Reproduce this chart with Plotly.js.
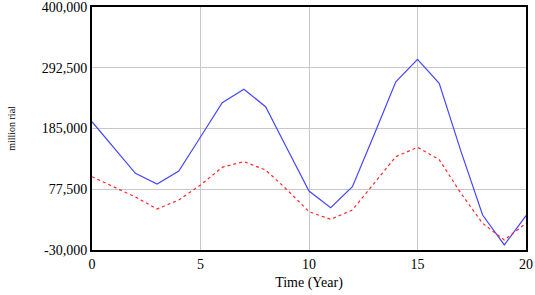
<!DOCTYPE html>
<html>
<head>
<meta charset="utf-8">
<script src="https://cdn.plot.ly/plotly-3.0.1.min.js"></script>
<style>html,body{margin:0;padding:0;background:#fff;}#chart{width:535px;height:295px;}</style>
</head>
<body>
<div id="chart"></div>
<script>
var years = [0,1,2,3,4,5,6,7,8,9,10,11,12,13,14,15,16,17,18,19,20];
var seriesA = [197000,151400,105700,86800,109800,170000,230700,254400,223600,148700,74400,44900,82000,174000,267800,307500,265000,145000,31900,-21100,30700];
var seriesB = [99700,82000,63800,42600,58500,85000,116300,126300,111600,76200,37800,24300,40800,88000,135100,151700,130000,70300,17300,-12300,17300];
var yTickVals = [-30000,77500,185000,292500,400000];
var yTickText = ["-30,000","77,500","185,000","292,500","400,000"];
var xTickVals = [0,5,10,15,20];

var traces = [
  {x: years, y: seriesA, type: 'scatter', mode: 'lines', line: {color: 'rgb(70,70,255)', width: 1.2}, hoverinfo: 'none'},
  {x: years, y: seriesB, type: 'scatter', mode: 'lines', line: {color: 'rgb(255,40,40)', width: 1.2, dash: '3px,3px'}, hoverinfo: 'none'}
];
var font = {family: '"Liberation Serif", "Times New Roman", serif', color: '#000'};
var layout = {
  width: 535, height: 295,
  margin: {l: 92, r: 9, t: 7, b: 45},
  paper_bgcolor: '#fff', plot_bgcolor: '#fff',
  showlegend: false,
  font: font,
  xaxis: {
    range: [0, 20], tickvals: xTickVals, ticks: '', showgrid: true, gridcolor: '#c8c8c8', gridwidth: 1,
    zeroline: false, showline: true, mirror: true, linecolor: '#000', linewidth: 2,
    ticklabeloverflow: 'allow',
    tickfont: {family: font.family, size: 14, color: '#000'},
    title: {text: 'Time (Year)', font: {family: font.family, size: 14, color: '#000'}, standoff: 6}
  },
  yaxis: {
    range: [-30000, 400000], tickvals: yTickVals, ticktext: yTickText, ticks: '', showgrid: true, gridcolor: '#c8c8c8', gridwidth: 1,
    zeroline: false, showline: true, mirror: true, linecolor: '#000', linewidth: 2,
    ticklabeloverflow: 'allow',
    tickfont: {family: font.family, size: 14, color: '#000'},
    title: {text: 'million rial', font: {family: font.family, size: 10, color: '#000'}, standoff: 24}
  }
};
Plotly.newPlot('chart', traces, layout, {staticPlot: true, displayModeBar: false});
</script>
</body>
</html>
